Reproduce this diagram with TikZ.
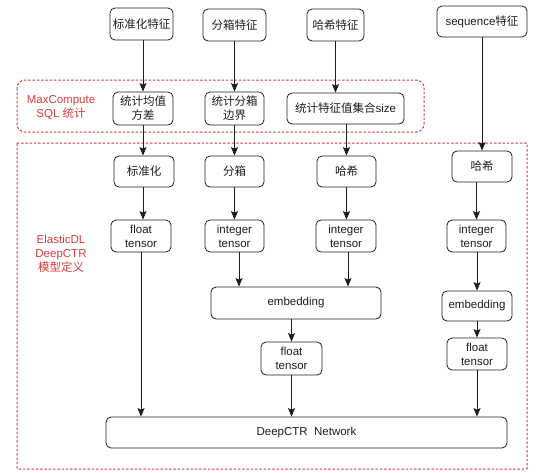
\documentclass[tikz,border=0pt]{standalone}
\usepackage{fontspec}
\setmainfont{Liberation Sans}
\newfontfamily\cjk{Noto Sans CJK SC}
\newcommand{\zh}[1]{{\cjk #1}}
\usetikzlibrary{arrows.meta}
\definecolor{regred}{RGB}{215,60,60}
\definecolor{framered}{RGB}{205,60,70}
\definecolor{ink}{RGB}{30,30,30}
\begin{document}
\begin{tikzpicture}[x=1pt,y=-1pt,
  box/.style={draw=ink, line width=0.8pt, rounded corners=5pt, align=center, inner sep=0pt, font=\fontsize{11.5}{14}\selectfont, text=ink},
  sz/.style 2 args={minimum width=#1pt, minimum height=#2pt},
  arr/.style={draw=ink, line width=0.8pt, -{Stealth[length=8.5pt,width=7pt,inset=1.5pt]}},
  region/.style={color=framered, draw=framered, dash pattern=on 2.5pt off 1.8pt, line width=1pt},
  lbl/.style={text=regred, align=center, font=\fontsize{11.5}{14}\selectfont}]
\useasboundingbox (0,0) rectangle (549,472);
% regions
\draw[region, rounded corners=8pt] (17,80) rectangle (424,132);
\draw[region, rounded corners=0.5pt] (17,143) rectangle (527,469);
\node[lbl] (lmc) at (61,108) {MaxCompute\\SQL \zh{统计}};
\node[lbl] (ledl) at (61,254) {ElasticDL\\DeepCTR\\\zh{模型定义}};
% top features
\node[box, sz={63}{32}] (f1) at (141.5,24) {\zh{标准化特征}};
\node[box, sz={63}{32}] (f2) at (234.5,25) {\zh{分箱特征}};
\node[box, sz={57}{32}] (f3) at (335.5,25) {\zh{哈希特征}};
\node[box, sz={90}{31}] (f4) at (482,21.5) {sequence\zh{特征}};
% SQL stats
\node[box, sz={60}{33}] (s1) at (143,108.5) {\zh{统计均值}\\\zh{方差}};
\node[box, sz={59}{33}] (s2) at (234.5,108.5) {\zh{统计分箱}\\\zh{边界}};
\node[box, sz={117}{31}] (s3) at (345.5,108.5) {\zh{统计特征值集合}size};
% preprocessing
\node[box, sz={60}{31}] (p1) at (144,171.5) {\zh{标准化}};
\node[box, sz={59}{31}] (p2) at (234.5,171.5) {\zh{分箱}};
\node[box, sz={59}{31}] (p3) at (346.5,171.5) {\zh{哈希}};
\node[box, sz={60}{31}] (p4) at (482,166.5) {\zh{哈希}};
% tensors
\node[box, sz={60}{32}] (t1) at (141,236) {float\\tensor};
\node[box, sz={59}{32}] (t2) at (234.5,236) {integer\\tensor};
\node[box, sz={60}{32}] (t3) at (346,236) {integer\\tensor};
\node[box, sz={59}{32}] (t4) at (476.5,236) {integer\\tensor};
% embeddings
\node[box, sz={170}{32}] (e1) at (296,303) {embedding};
\node[box, sz={70}{30}] (e2) at (477,306) {embedding};
% float tensors
\node[box, sz={61}{33}] (u1) at (291.5,358.5) {float\\tensor};
\node[box, sz={60}{32}] (u2) at (477,354) {float\\tensor};
% network
\node[box, sz={401}{31}] (net) at (306.5,432.5) {DeepCTR\ \ Network};
% arrows
\draw[arr] (f1.south -| s1.north) -- (s1.north);
\draw[arr] (f2.south -| s2.north) -- (s2.north);
\draw[arr] (f3.south) -- (f3.south |- s3.north);
\draw[arr] (f4.south) -- (f4.south |- p4.north);
\draw[arr] (s1.south) -- (s1.south |- p1.north);
\draw[arr] (s2.south) -- (s2.south |- p2.north);
\draw[arr] (s3.south -| p3.north) -- (p3.north);
\draw[arr] (p1.south -| s1.south) -- (s1.south |- t1.north);
\draw[arr] (p2.south) -- (p2.south |- t2.north);
\draw[arr] (p3.south) -- (p3.south |- t3.north);
\draw[arr] (p4.south -| t4.north) -- (t4.north);
\draw[arr] ([xshift=4.5pt]t2.south) -- ([xshift=4.5pt]t2.south |- e1.north);
\draw[arr] ([xshift=2pt]t3.south) -- ([xshift=2pt]t3.south |- e1.north);
\draw[arr] (t4.south -| e2.north) -- (e2.north);
\draw[arr] (e1.south -| u1.north) -- (u1.north);
\draw[arr] (e2.south) -- (e2.south |- u2.north);
\draw[arr] (t1.south) -- (t1.south |- net.north);
\draw[arr] (u1.south) -- (u1.south |- net.north);
\draw[arr] (u2.south) -- (u2.south |- net.north);
\end{tikzpicture}
\end{document}
